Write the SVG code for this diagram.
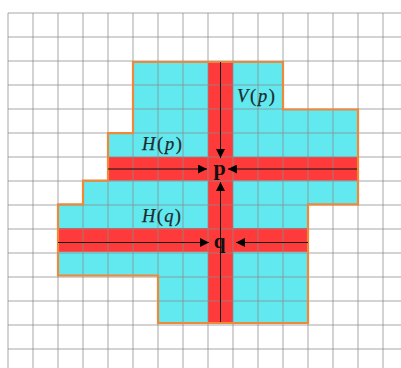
<svg xmlns="http://www.w3.org/2000/svg" width="401" height="368" viewBox="0 0 401 368">
<style>
.grid line{stroke:#8c8c8c;stroke-opacity:0.5;stroke-width:1.5}
.cyan{fill:#62e9ef}
.red{fill:#ff3a3a}
.outline{fill:none;stroke:#f0883a;stroke-width:2.2}
.conn line{stroke:#111;stroke-width:1}
.lbl{font-family:"Liberation Serif","Times New Roman",serif;font-size:18.5px;fill:#1d2b2d;stroke:#1d2b2d;stroke-width:0.25}
.it{font-style:italic}
.pt{font-family:"Liberation Serif","Times New Roman",serif;font-weight:bold;fill:#111;text-anchor:middle}
</style>
<defs>
<marker id="ah" markerUnits="userSpaceOnUse" markerWidth="9" markerHeight="9" viewBox="0 0 8 8" refX="8" refY="4" orient="auto">
<path d="M0,0 L8,4 L0,8 Z" fill="#000"/>
</marker>
</defs>
<rect width="401" height="368" fill="#fff"/>
<g id="region">
<polygon class="cyan" points="133,62 283,62 283,109.5 358,109.5 358,204.4 308,204.4 308,323 158,323 158,275.5 58,275.5 58,204.4 83,204.4 83,180.6 108,180.6 108,133.2 133,133.2"/>
<rect class="red" x="108" y="156.9" width="250" height="23.7"/>
<rect class="red" x="58" y="228.1" width="250" height="23.7"/>
<rect class="red" x="208" y="62" width="25" height="261"/>
</g>
<g class="grid">
<line x1="8" y1="13" x2="8" y2="368"/>
<line x1="33" y1="13" x2="33" y2="368"/>
<line x1="58" y1="13" x2="58" y2="368"/>
<line x1="83" y1="13" x2="83" y2="368"/>
<line x1="108" y1="13" x2="108" y2="368"/>
<line x1="133" y1="13" x2="133" y2="368"/>
<line x1="158" y1="13" x2="158" y2="368"/>
<line x1="183" y1="13" x2="183" y2="368"/>
<line x1="208" y1="13" x2="208" y2="368"/>
<line x1="233" y1="13" x2="233" y2="368"/>
<line x1="258" y1="13" x2="258" y2="368"/>
<line x1="283" y1="13" x2="283" y2="368"/>
<line x1="308" y1="13" x2="308" y2="368"/>
<line x1="333" y1="13" x2="333" y2="368"/>
<line x1="358" y1="13" x2="358" y2="368"/>
<line x1="383" y1="13" x2="383" y2="368"/>
<line x1="8" y1="13" x2="401" y2="13"/>
<line x1="8" y1="37" x2="401" y2="37"/>
<line x1="8" y1="61" x2="401" y2="61"/>
<line x1="8" y1="85" x2="401" y2="85"/>
<line x1="8" y1="109" x2="401" y2="109"/>
<line x1="8" y1="133" x2="401" y2="133"/>
<line x1="8" y1="157" x2="401" y2="157"/>
<line x1="8" y1="181" x2="401" y2="181"/>
<line x1="8" y1="205" x2="401" y2="205"/>
<line x1="8" y1="229" x2="401" y2="229"/>
<line x1="8" y1="253" x2="401" y2="253"/>
<line x1="8" y1="277" x2="401" y2="277"/>
<line x1="8" y1="301" x2="401" y2="301"/>
<line x1="8" y1="325" x2="401" y2="325"/>
<line x1="8" y1="349" x2="401" y2="349"/>
</g>
<polygon class="outline" points="133,62 283,62 283,109.5 358,109.5 358,204.4 308,204.4 308,323 158,323 158,275.5 58,275.5 58,204.4 83,204.4 83,180.6 108,180.6 108,133.2 133,133.2"/>
<g id="connectors" class="conn">
<line x1="220.5" y1="62" x2="220.5" y2="158" marker-end="url(#ah)"/>
<line x1="220.5" y1="322" x2="220.5" y2="182" marker-end="url(#ah)"/>
<line x1="108" y1="169" x2="207" y2="169" marker-end="url(#ah)"/>
<line x1="357" y1="169" x2="228" y2="169" marker-end="url(#ah)"/>
<line x1="58" y1="242.5" x2="209" y2="242.5" marker-end="url(#ah)"/>
<line x1="308" y1="242.5" x2="236" y2="242.5" marker-end="url(#ah)"/>
</g>
<g id="label-Hp"><text class="lbl" x="142" y="150" textLength="40" lengthAdjust="spacing"><tspan class="it">H</tspan>(<tspan class="it">p</tspan>)</text></g>
<g id="label-Vp"><text class="lbl" x="237" y="102" textLength="38" lengthAdjust="spacing"><tspan class="it">V</tspan>(<tspan class="it">p</tspan>)</text></g>
<g id="label-Hq"><text class="lbl" x="142" y="222" textLength="39" lengthAdjust="spacing"><tspan class="it">H</tspan>(<tspan class="it">q</tspan>)</text></g>
<g id="node-p"><text class="pt" x="219.5" y="174.5" font-size="22">p</text></g>
<g id="node-q"><text class="pt" x="219.5" y="247.5" font-size="21">q</text></g>
</svg>
